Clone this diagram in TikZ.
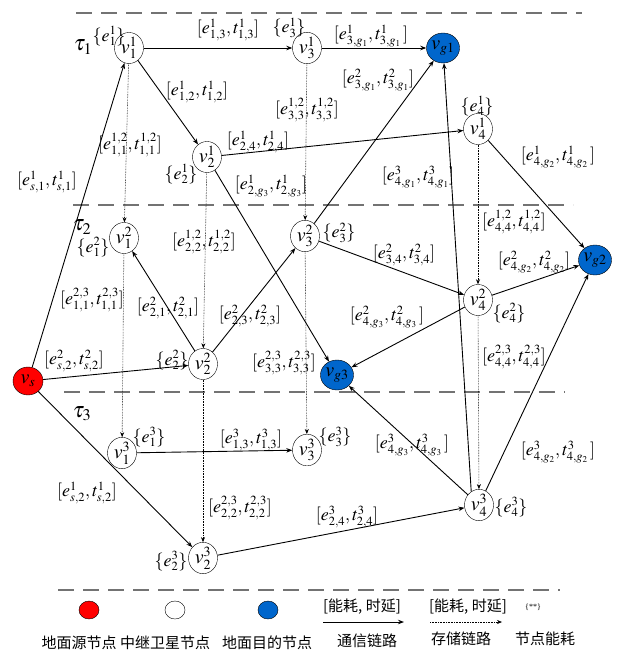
\documentclass[tikz,border=0pt]{standalone}
\usepackage{mathptmx}
\usepackage{fontspec}
\setmainfont{Liberation Serif}
\newfontfamily\cjk{Noto Sans CJK SC}
\usetikzlibrary{arrows.meta,shapes.geometric}
\DeclareMathSizes{18}{18}{12.5}{9}
\DeclareMathSizes{20}{20}{14}{10}
\definecolor{gblue}{RGB}{0,102,204}
\begin{document}
\begin{tikzpicture}[x=1pt,y=-1pt,font=\fontsize{18}{20}\selectfont,inner sep=0.5pt,
  relay/.style={ellipse,draw,fill=white,minimum width=29pt,minimum height=26pt,inner sep=0pt,
    font=\fontsize{20}{22}\selectfont},
  src/.style={relay,fill=red,minimum width=30pt,minimum height=28pt},
  dst/.style={relay,fill=gblue,minimum width=30pt,minimum height=30pt},
  comm/.style={-{Stealth[length=6pt,width=4.5pt]},line width=0.9pt},
  store/.style={-{Stealth[length=5pt,width=4pt]},densely dotted,line width=0.6pt},
  layer/.style={black!55,line width=1.3pt,dash pattern=on 16pt off 9pt},
  slot/.style={inner sep=0pt,font=\fontsize{22}{24}\selectfont},
  cjkf/.style={font=\cjk\fontsize{15}{17}\selectfont}]
\useasboundingbox (0,0) rectangle (617,652);

% Time slot separators
\draw[layer] (76,13) -- (582,13);
\draw[layer] (73,205) -- (573,205);
\draw[layer] (64,392) -- (565,392);
\node[slot] (tau1) at (83,47) {$\tau_1$};
\node[slot] (tau2) at (82,227) {$\tau_2$};
\node[slot] (tau3) at (82,414) {$\tau_3$};

% Nodes
\node[relay] (v11) at (129,48) {$v_1^1$};
\node[relay] (v31) at (307,48) {$v_3^1$};
\node[dst] (vg1) at (443,48) {$v_{g1}$};
\node[relay] (v21) at (207,157) {$v_2^1$};
\node[relay] (v41) at (478,129) {$v_4^1$};
\node[relay] (v12) at (124,238) {$v_1^2$};
\node[relay] (v32) at (305,236) {$v_3^2$};
\node[dst] (vg2) at (595,260) {$v_{g2}$};
\node[relay] (v42) at (478,300) {$v_4^2$};
\node[relay] (v22) at (203,364) {$v_2^2$};
\node[dst] (vg3) at (337,375) {$v_{g3}$};
\node[src] (vs) at (28,381) {$v_s$};
\node[relay] (v13) at (122,453) {$v_1^3$};
\node[relay] (v33) at (307,450) {$v_3^3$};
\node[relay] (v43) at (479,505) {$v_4^3$};
\node[relay] (v23) at (203,558) {$v_2^3$};

% Node energy
\node (n11) at (109,36) {$\{e_1^1\}$};
\node (n31) at (289,28) {$\{e_3^1\}$};
\node (n21) at (181,174) {$\{e_2^1\}$};
\node (n41) at (477,106) {$\{e_4^1\}$};
\node (n12) at (93,247) {$\{e_1^2\}$};
\node (n32) at (339,233) {$\{e_3^2\}$};
\node (n22) at (172,360) {$\{e_2^2\}$};
\node (n42) at (509,313) {$\{e_4^2\}$};
\node (n13) at (149,437) {$\{e_1^3\}$};
\node (n33) at (335,437) {$\{e_3^3\}$};
\node (n23) at (171,561) {$\{e_2^3\}$};
\node (n43) at (511,507) {$\{e_4^3\}$};

% Communication links
\draw[comm] (vs) -- (v11);
\draw[comm] (v11) -- (v31);
\draw[comm] (v11) -- (v21);
\draw[comm] (v31) -- (vg1);
\draw[comm] (v21) -- (v41);
\draw[comm] (v21) -- (vg3);
\draw[comm] (v32) -- (vg1);
\draw[comm] (v43.120) -- (vg1);
\draw[comm] (v41) -- (vg2);
\draw[comm] (vs) -- (v22);
\draw[comm] (v22) -- (v12);
\draw[comm] (v22) -- (v32);
\draw[comm] (v32) -- (v42);
\draw[comm] (v42) -- (vg2);
\draw[comm] (v42) -- (vg3);
\draw[comm] (vs) -- (v23);
\draw[comm] (v13) -- (v33);
\draw[comm] (v23) -- (v43);
\draw[comm] (v43) -- (vg3);
\draw[comm] (v43) -- (vg2);

% Storage links
\draw[store] (v11) -- (v12);
\draw[store] (v12) -- (v13);
\draw[store] (v21) -- (v22);
\draw[store] (v22) -- (v23);
\draw[store] (v31) -- (v32);
\draw[store] (v32) -- (v33);
\draw[store] (v41) -- (v42);
\draw[store] (v42) -- (v43);

% Link costs
\node (c13) at (228,30) {$[e^1_{1,3},t^1_{1,3}]$};
\node (c3g1) at (371,36) {$[e^1_{3,g_1},t^1_{3,g_1}\,]$};
\node (c12) at (197,92) {$[e^1_{1,2},t^1_{1,2}]$};
\node (s33a) at (307,110) {$[e^{1,2}_{3,3},t^{1,2}_{3,3}]$};
\node (s11a) at (130,145) {$[e^{1,2}_{1,1},t^{1,2}_{1,1}]$};
\node (c24) at (258,142) {$[e^1_{2,4},t^1_{2,4}]$};
\node (cs1) at (47,182) {$[e^1_{s,1},t^1_{s,1}]$};
\node (c2g3) at (271,186) {$[e^1_{2,g_3},t^1_{2,g_3}]$};
\node (d3g1) at (378,80) {$[e^2_{3,g_1},t^2_{3,g_1}]$};
\node (c4g2) at (558,157) {$[e^1_{4,g_2},t^1_{4,g_2}\,]$};
\node (f4g1) at (418,177) {$[e^3_{4,g_1},t^3_{4,g_1}]$};
\node (s22a) at (204,242) {$[e^{1,2}_{2,2},t^{1,2}_{2,2}]$};
\node (s11b) at (92,300) {$[e^{2,3}_{1,1},t^{2,3}_{1,1}]$};
\node (d21) at (168,308) {$[e^2_{2,1},t^2_{2,1}]$};
\node (d23) at (250,316) {$[e^2_{2,3},t^2_{2,3}]$};
\node (ds2) at (74,361) {$[e^2_{s,2},t^2_{s,2}]$};
\node (s33b) at (284,363) {$[e^{2,3}_{3,3},t^{2,3}_{3,3}]$};
\node (d34) at (404,255) {$[e^2_{3,4},t^2_{3,4}]$};
\node (s44a) at (514,222) {$[e^{1,2}_{4,4},t^{1,2}_{4,4}]$};
\node (d4g2) at (534,262) {$[e^2_{4,g_2},t^2_{4,g_2}]$};
\node (d4g3) at (387,317) {$[e^2_{4,g_3},t^2_{4,g_3}\,]$};
\node (s44b) at (514,357) {$[e^{2,3}_{4,4},t^{2,3}_{4,4}]$};
\node (f13) at (251,440) {$[e^3_{1,3},t^3_{1,3}]$};
\node (cs2) at (87,493) {$[e^1_{s,2},t^1_{s,2}]$};
\node (s22b) at (240,508) {$[e^{2,3}_{2,2},t^{2,3}_{2,2}]$};
\node (f4g3) at (412,445) {$[e^3_{4,g_3},t^3_{4,g_3}\,]$};
\node (f4g2) at (558,452) {$[e^3_{4,g_2},t^3_{4,g_2}\,]$};
\node (f24) at (347,517) {$[e^3_{2,4},t^3_{2,4}]$};

% Legend
\draw[layer] (58,590) -- (560,590);
\node[src,minimum width=20pt,minimum height=18pt] (ksrc) at (89,610) {};
\node[relay,minimum width=20pt,minimum height=18pt] (krelay) at (175,610) {};
\node[dst,minimum width=20pt,minimum height=18pt] (kdst) at (268,610) {};
\node[cjkf] (tsrc) at (79,643) {地面源节点};
\node[cjkf] (trelay) at (165,643) {中继卫星节点};
\node[cjkf] (tdst) at (267,643) {地面目的节点};
\coordinate (ka) at (323,622);
\coordinate (kb) at (404,622);
\draw[comm] (ka) -- (kb);
\node[cjkf] (tka) at (362,607) {[能耗, 时延]};
\node[cjkf] (tkb) at (367,641) {通信链路};
\coordinate (kc) at (430,622);
\coordinate (kd) at (502,622);
\draw[store] (kc) -- (kd);
\node[cjkf] (tkc) at (468,607) {[能耗, 时延]};
\node[cjkf] (tkd) at (461,639) {存储链路};
\node[font=\fontsize{8}{9}\selectfont] (tke) at (533,607) {\{**\}};
\node[cjkf] (tkf) at (545,639) {节点能耗};

\end{tikzpicture}
\end{document}
